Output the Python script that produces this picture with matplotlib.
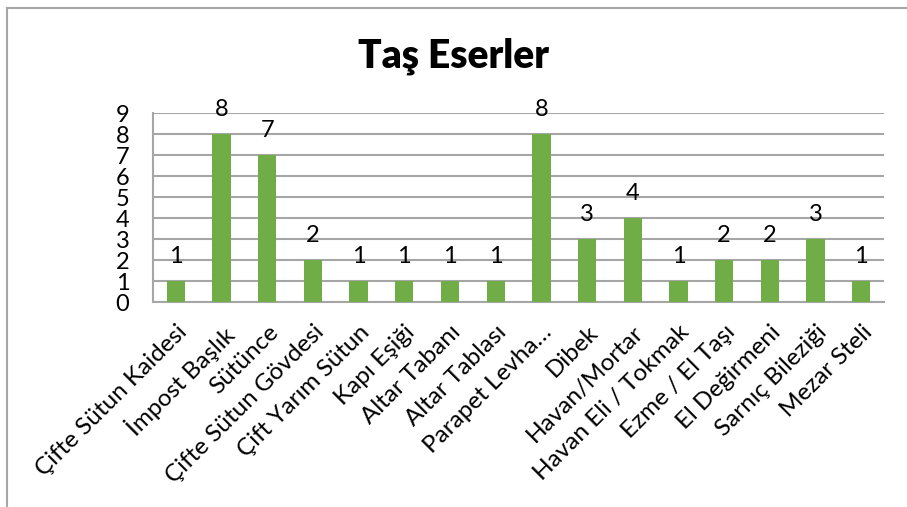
import matplotlib.pyplot as plt
from matplotlib.lines import Line2D

plt.rcParams['font.family'] = ['Lato', 'DejaVu Sans']

categories = ['Çifte Sütun Kaidesi', 'İmpost Başlık', 'Sütünce', 'Çifte Sütun Gövdesi',
              'Çift Yarım Sütun', 'Kapı Eşiği', 'Altar Tabanı', 'Altar Tablası',
              'Parapet Levha…', 'Dibek', 'Havan/Mortar', 'Havan Eli / Tokmak',
              'Ezme / El Taşı', 'El Değirmeni', 'Sarnıç Bileziği', 'Mezar Steli']
values = [1, 8, 7, 2, 1, 1, 1, 1, 8, 3, 4, 1, 2, 2, 3, 1]
yticks = list(range(0, 10))

fig = plt.figure(figsize=(9.07, 5.07), dpi=100)
ax = fig.add_axes([0.1687, 0.4043, 0.9747 - 0.1687, 0.7771 - 0.4043])

x = range(len(categories))
bars = ax.bar(x, values, width=0.4, color='#70AD47', zorder=3)
for b, v in zip(bars, values):
    ax.annotate(str(v), (b.get_x() + b.get_width() / 2, v), xytext=(0, 10),
                textcoords='offset points', ha='center', va='bottom', fontsize=17)

ax.set_xlim(-0.5, len(categories) - 0.5)
ax.set_ylim(0, 9)
ax.set_yticks(yticks)
ax.set_yticklabels([str(t) for t in yticks], fontsize=17)
ax.yaxis.grid(True, color='#A6A6A6', linewidth=1.5, zorder=0)
ax.set_xticks(list(x))
ax.set_xticklabels(categories, rotation=45, ha='right', va='top',
                   rotation_mode='anchor', fontsize=17.5)
ax.tick_params(axis='both', length=0)
ax.tick_params(axis='y', pad=17)
ax.tick_params(axis='x', pad=14)
for s in ['top', 'right']:
    ax.spines[s].set_visible(False)
for s in ['left', 'bottom']:
    ax.spines[s].set_color('#A6A6A6')
    ax.spines[s].set_linewidth(1.5)

fig.text(0.5, 0.89, 'Taş Eserler', ha='center', va='center', fontsize=28, fontweight='heavy')

# outer chart border (cut off at right and bottom)
fig.add_artist(Line2D([7 / 907, 7 / 907], [0, 1 - 8 / 507], color='#A6A6A6', linewidth=1.5))
fig.add_artist(Line2D([7 / 907, 1], [1 - 8 / 507, 1 - 8 / 507], color='#A6A6A6', linewidth=1.5))

fig.savefig('out.png', dpi=100)
